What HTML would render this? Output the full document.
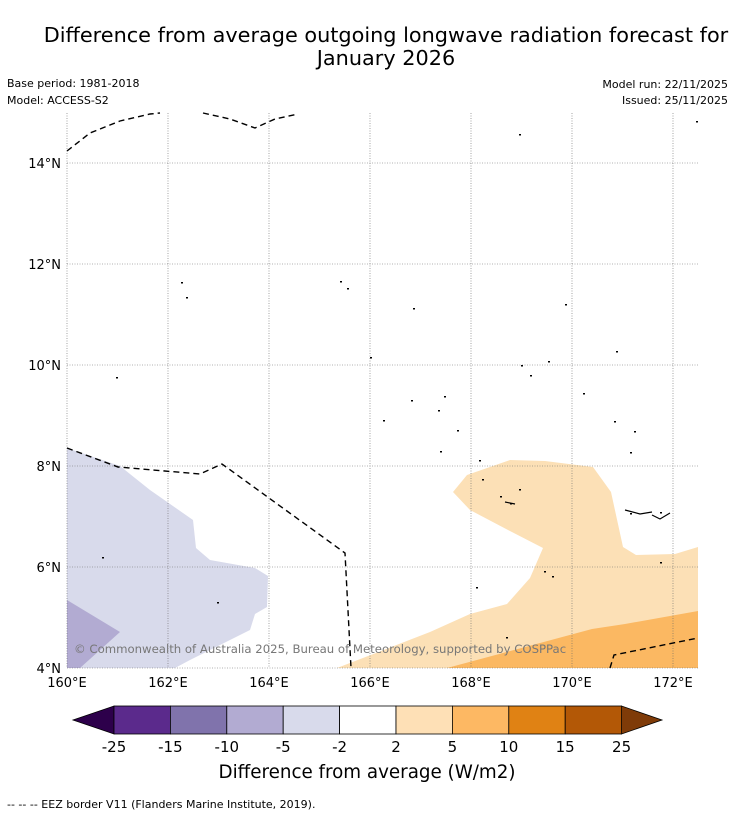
<!DOCTYPE html>
<html><head><meta charset="utf-8">
<style>
body{margin:0;background:#fff;width:736px;height:816px;overflow:hidden;font-family:"DejaVu Sans","Liberation Sans",sans-serif;}
svg{position:absolute;left:0;top:0}
</style></head><body>
<svg width="736" height="816" font-family="DejaVu Sans, Liberation Sans, sans-serif">
<text x="386" y="42" font-size="20.8" text-anchor="middle">Difference from average outgoing longwave radiation forecast for</text>
<text x="386" y="65" font-size="20.8" text-anchor="middle">January 2026</text>
<text x="7" y="87" font-size="11">Base period: 1981-2018</text>
<text x="7" y="104" font-size="11">Model: ACCESS-S2</text>
<text x="728" y="88" font-size="11" text-anchor="end">Model run: 22/11/2025</text>
<text x="728" y="104" font-size="11" text-anchor="end">Issued: 25/11/2025</text>
<g id="map"></g>
<g id="cbar"></g>
<text x="367" y="778" font-size="18.3" text-anchor="middle">Difference from average (W/m2)</text>
<text x="7" y="808" font-size="11">--  --  -- EEZ border V11 (Flanders Marine Institute, 2019).</text>
</svg>
<script>
const lonTicks=[160,162,164,166,168,170,172];
const latTicks=[4,6,8,10,12,14];
const cbLevels=["-25","-15","-10","-5","-2","2","5","10","15","25"];
const cbColors=["#5b2a8c","#8073ac","#b2abd2","#d8daeb","#ffffff","#fee0b6","#fdb863","#e08214","#b35806"];
const NS="http://www.w3.org/2000/svg";
const X=lon=>67+(lon-160)*50.5;
const Y=lat=>668-(lat-4)*50.5;
function mk(t,a,p){const e=document.createElementNS(NS,t);for(const k in a)e.setAttribute(k,a[k]);p.appendChild(e);return e;}
const map=document.getElementById('map');
function poly(pts,fill,name){const e=mk('polygon',{points:pts.map(p=>p.join(',')).join(' '),fill:fill},map);

}
poly([[67,448],[120,466],[150,490],[193,520],[196,548],[210,560],[255,568],[268,576],[267,607],[255,614],[250,630],[190,660],[175,668],[67,668]],"#d8daeb","anomaly-region-minus2-5");
poly([[67,600],[120,632],[80,668],[67,668]],"#b2abd2","anomaly-region-minus5-10");
poly([[453,492],[467,475],[510,460],[545,461],[593,467],[611,492],[623,547],[636,555],[675,554],[698,547],[698,668],[337,668],[430,632],[470,614],[507,604],[530,578],[543,548],[508,530],[470,510]],"#fce0b6","anomaly-region-2-5");
poly([[447,668],[592,629],[625,624],[698,611],[698,668]],"#fbb862","anomaly-region-5-10");
lonTicks.forEach(l=>{const e=mk('line',{x1:X(l),x2:X(l),y1:113,y2:668,stroke:'#666','stroke-width':0.6,'stroke-dasharray':'1,1.5'},map);


const t=mk('text',{x:X(l),y:687,'font-size':13,'text-anchor':'middle'},map);t.textContent=l+'°E';

});
latTicks.forEach(l=>{const e=mk('line',{x1:67,x2:698,y1:Y(l),y2:Y(l),stroke:'#666','stroke-width':0.6,'stroke-dasharray':'1,1.5'},map);


const t=mk('text',{x:61,y:Y(l)+5,'font-size':13,'text-anchor':'end'},map);t.textContent=l+'°N';

});
function dash(pts){const e=mk('polyline',{points:pts.map(p=>p.join(',')).join(' '),fill:'none',stroke:'#000','stroke-width':1.4,'stroke-dasharray':'6,4'},map);

}
dash([[67,448],[118,467],[200,474],[222,464],[345,553],[351,668]]);
dash([[610,668],[614,655],[698,638]]);
dash([[67,151],[90,133],[120,121],[150,114],[160,113]]);
dash([[203,113],[230,119],[255,128],[275,119],[298,114]]);
[[519,134],[181,282],[186,297],[340,281],[347,288],[413,308],[565,304],[370,357],[616,351],[116,377],[521,365],[530,375],[548,361],[583,393],[411,400],[444,396],[438,410],[383,420],[457,430],[614,421],[634,431],[440,451],[630,452],[479,460],[482,479],[500,496],[519,489],[510,503],[630,513],[660,512],[102,557],[217,602],[476,587],[544,571],[552,576],[660,562],[506,637],[696,121]].forEach(p=>{const e=mk('rect',{x:p[0],y:p[1],width:2,height:1.5,fill:'#000'},map);

});
[[[625,510],[640,514],[652,512]],[[652,515],[660,519],[670,513]],[[505,502],[515,504]]].forEach(s=>{const e=mk('polyline',{points:s.map(p=>p.join(',')).join(' '),fill:'none',stroke:'#000','stroke-width':1.2},map);

});
const cp=mk('text',{x:74,y:653,'font-size':11.7,fill:'#777'},map);cp.textContent='© Commonwealth of Australia 2025, Bureau of Meteorology, supported by COSPPac';


const cb=document.getElementById('cbar');
const cx0=114,cw=56.4,cy=706,ch=28;
const lt=mk('polygon',{points:`${cx0},${cy} ${cx0},${cy+ch} 73,${cy+ch/2}`,fill:'#2d004b',stroke:'#000','stroke-width':0.8},cb);


const rx=cx0+cw*cbColors.length;
const rt=mk('polygon',{points:`${rx},${cy} ${rx},${cy+ch} 662,${cy+ch/2}`,fill:'#7f3b08',stroke:'#000','stroke-width':0.8},cb);


cbColors.forEach((c,i)=>{const r=mk('rect',{x:cx0+i*cw,y:cy,width:cw,height:ch,fill:c,stroke:'#000','stroke-width':0.8},cb);

});
cbLevels.forEach((v,i)=>{const t=mk('text',{x:cx0+i*cw,y:752,'font-size':15,'text-anchor':'middle'},cb);t.textContent=v;

});
</script>
</body></html>
